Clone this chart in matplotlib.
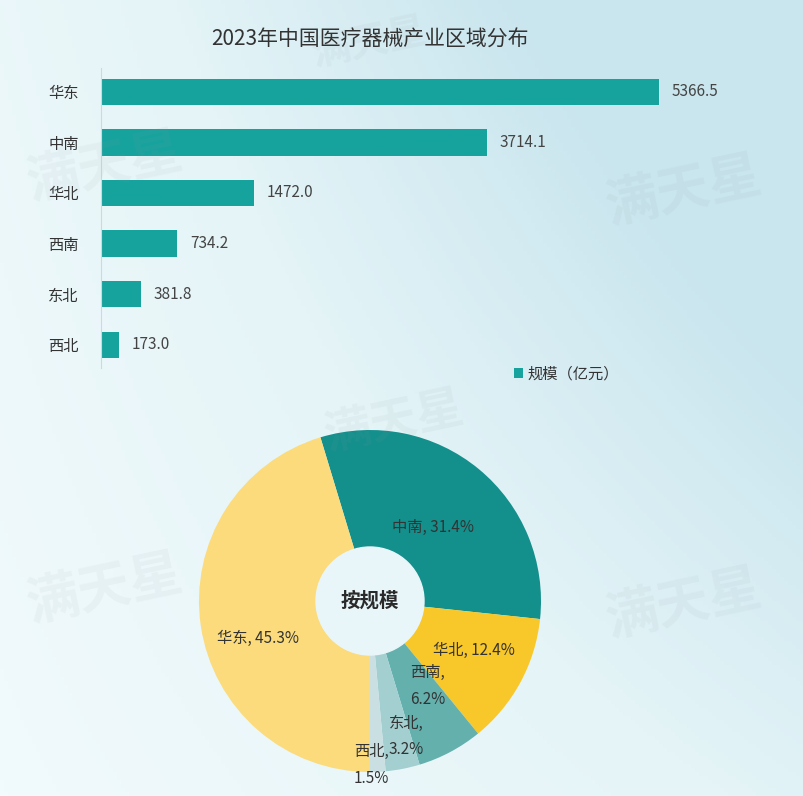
import numpy as np
import matplotlib
matplotlib.use("Agg")
import matplotlib.pyplot as plt
from matplotlib.colors import LinearSegmentedColormap

plt.rcParams["font.family"] = ["Noto Sans CJK SC", "DejaVu Sans"]

# 数据
regions = ["华东", "中南", "华北", "西南", "东北", "西北"]
scale = [5366.5, 3714.1, 1472.0, 734.2, 381.8, 173.0]

# 饼图顺序（顺时针，从中南开始）
pie_regions = ["中南", "华北", "西南", "东北", "西北", "华东"]
pie_colors = ["#138f8c", "#f8c72a", "#63b0ad", "#a3cfd0", "#c9dfe2", "#fbdb7c"]
label_r = [0.57, 0.67, 0.60, 0.82, 0.96, 0.69]
label_dang = [-1, 3, 6, 4, -2, 10]

BAR = "#16a39e"
TXT = "#333333"

fig = plt.figure(figsize=(8.04, 7.96), dpi=100)

# 背景渐变
bg = fig.add_axes([0, 0, 1, 1], zorder=-10)
xx, yy = np.meshgrid(np.linspace(0, 1, 200), np.linspace(0, 1, 200))
t = np.clip(0.55 * xx + 0.6 * yy * xx + 0.25 * yy, 0, 1)
cmap = LinearSegmentedColormap.from_list("bg", ["#f1fafc", "#e4f4f7", "#c9e5ee"])
bg.imshow(t, cmap=cmap, origin="lower", extent=[0, 1, 0, 1], aspect="auto")
bg.set_axis_off()

# 水印
for (wx, wy, s) in [(0.46, 0.945, 28), (0.13, 0.79, 38), (0.85, 0.76, 38),
                    (0.49, 0.47, 34), (0.13, 0.26, 38), (0.85, 0.24, 38)]:
    fig.text(wx, wy, "满天星", fontsize=s, fontweight="bold", color="#8f9ea3",
             alpha=0.08, rotation=12, ha="center", va="center")

# 条形图
ax = fig.add_axes([101 / 804, 428 / 796, 624 / 804, 300 / 796])
ax.set_facecolor("none")
y = np.arange(len(regions))
bars = ax.barh(y, scale, height=0.52, color=BAR, label="规模（亿元）")
ax.set_xlim(0, 6000)
ax.set_ylim(5.46, -0.47)
ax.set_yticks(y)
ax.set_yticklabels(regions, fontsize=11, color=TXT)
ax.tick_params(axis="y", length=0, pad=16)
ax.set_xticks([])
for sp in ["top", "right", "bottom"]:
    ax.spines[sp].set_visible(False)
ax.spines["left"].set_color("#cfd8da")
for b, v in zip(bars, scale):
    ax.text(b.get_width() + 120, b.get_y() + b.get_height() / 2, f"{v:.1f}",
            va="center", ha="left", fontsize=11, color="#444444")
ax.legend(loc="center left", bbox_to_anchor=(500 / 804, 1 - 374 / 796),
          bbox_transform=fig.transFigure, frameon=False, fontsize=11,
          handlelength=0.6, handleheight=0.6, handletextpad=0.3,
          labelcolor=TXT)

fig.text(370 / 804, 1 - 40 / 796, "2023年中国医疗器械产业区域分布",
         ha="center", va="center", fontsize=15, color=TXT)

# 饼图
R = 171
pax = fig.add_axes([(370 - R) / 804, (796 - 601 - R) / 796, 2 * R / 804, 2 * R / 796])
pie_vals = [scale[regions.index(r)] for r in pie_regions]
total = sum(pie_vals)
start = -90 + 360 * sum(pie_vals[:-1]) / total
wedges, _ = pax.pie(pie_vals, colors=pie_colors, startangle=start,
                    counterclock=False, radius=1.0)
pax.set_xlim(-1, 1)
pax.set_ylim(-1, 1)
pax.set_aspect("equal")

for w, name, v, rf, da in zip(wedges, pie_regions, pie_vals, label_r, label_dang):
    ang = np.deg2rad((w.theta1 + w.theta2) / 2 + da)
    pct = f"{100 * v / total:.1f}%"
    if name in ("西南", "东北", "西北"):
        lab = f"{name},\n{pct}"
        ls = 1.75
    else:
        lab = f"{name}, {pct}"
        ls = 1.2
    pax.text(rf * np.cos(ang), rf * np.sin(ang), lab, ha="center", va="center",
             fontsize=11, color=TXT, linespacing=ls)

hole = plt.Circle((0, 0), 54 / R, color="#e9f6f9", zorder=5)
pax.add_patch(hole)
pax.text(0, 0, "按规模", ha="center", va="center", fontsize=14,
         fontweight="bold", color="#2a2a2a", zorder=6)

fig.savefig("out.png", dpi=100)
